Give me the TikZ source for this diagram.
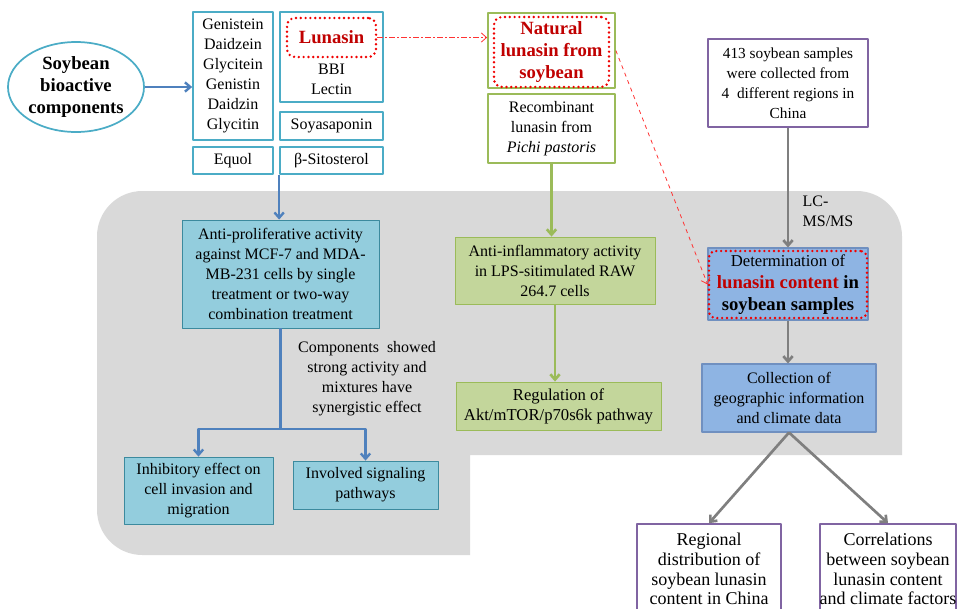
\documentclass[tikz,border=0pt]{standalone}
\usepackage[svgnames]{xcolor}
\usepackage{fontspec}
\setmainfont{Liberation Serif}
\usetikzlibrary{arrows.meta}
\usetikzlibrary{shapes.geometric}
\usetikzlibrary{calc}

\definecolor{aqualine}{HTML}{4BACC6}
\definecolor{arrblue}{HTML}{4F81BD}
\definecolor{cyanfill}{HTML}{93CDDD}
\definecolor{oliveline}{HTML}{9BBB59}
\definecolor{olivefill}{HTML}{C3D69B}
\definecolor{purpline}{HTML}{8064A2}
\definecolor{detfill}{HTML}{8EB4E3}
\definecolor{detline}{HTML}{7090C0}
\definecolor{lunred}{HTML}{C00000}
\definecolor{dotred}{HTML}{F00000}
\definecolor{bggray}{HTML}{D9D9D9}
\definecolor{arrgray}{HTML}{7F7F7F}

\begin{document}
\begin{tikzpicture}[x=0.75pt,y=-0.75pt,line join=round,
  sz/.style 2 args={minimum width=#1*0.75pt,minimum height=#2*0.75pt},
  txt/.style={font=\fontsize{12}{15}\selectfont,align=center,inner sep=0pt},
  bold/.style={font=\fontsize{14}{16.5}\selectfont\bfseries,align=center,inner sep=0pt},
  aquabox/.style={txt,draw=aqualine,line width=1.3pt},
  cyanbox/.style={txt,draw=aqualine!80!black,fill=cyanfill,line width=0.6pt},
  olivebox/.style={txt,draw=oliveline,line width=1.3pt},
  olivefilled/.style={txt,draw=oliveline,fill=olivefill,line width=0.6pt},
  purpbox/.style={txt,draw=purpline,line width=1.3pt},
  bluebox/.style={txt,draw=detline,fill=detfill,line width=0.8pt},
  reddots/.style={draw=dotred,line width=2pt,line cap=round,dash pattern=on 0pt off 3.6pt,rounded corners=6pt},
  blueln/.style={draw=arrblue,line width=1.8pt},
  oliveln/.style={draw=oliveline,line width=2pt},
  grayln/.style={draw=arrgray,line width=2pt},
  redln/.style={draw=red!80!white,line width=0.6pt},
  >={Straight Barb[length=4pt,width=7pt]}
]
\useasboundingbox (0,0) rectangle (957,608);
\clip (0,0) rectangle (957,608);

% shaded area
\fill[bggray] (500,191) [rounded corners=34pt] -- (97,191) -- (97,555) -- (300,555) [sharp corners] -- (470,555) -- (470,455) -- (902,455) -- (902,300) [rounded corners=34pt] -- (902,191) -- cycle;

% components
\node[ellipse,draw=aqualine,line width=1.3pt,bold,sz={136}{90}] (soy) at (76,87) {Soybean\\bioactive\\components};
\node[aquabox,sz={80}{128}] (iso) at (233,76) {Genistein\\Daidzein\\Glycitein\\Genistin\\Daidzin\\Glycitin};
\node[aquabox,sz={103}{90}] (pep) at (331.5,57) {};
\node[reddots,bold,text=lunred,sz={89}{39}] (lun) at (331.5,37.5) {Lunasin};
\node[txt] (bbi) at (331.5,79.5) {BBI\\Lectin};
\node[aquabox,sz={103}{28}] (soya) at (331.5,126) {Soyasaponin};
\node[aquabox,sz={80}{27}] (equol) at (233,160.5) {Equol};
\node[aquabox,sz={103}{27}] (sito) at (331.5,160.5) {β-Sitosterol};

% lunasin
\node[olivebox,sz={127}{75}] (natbox) at (551.5,50.5) {};
\node[reddots,bold,text=lunred,sz={115}{70}] (nat) at (551.5,52) {Natural\\lunasin from\\soybean};
\node[olivebox,sz={127}{69}] (rec) at (551.5,128.5) {Recombinant\\lunasin from\\\textit{Pichi pastoris}};
\node[purpbox,font=\fontsize{11.5}{15}\selectfont,sz={160}{88}] (samp) at (788,83) {413 soybean samples\\were collected from\\4~ different regions in\\China};

% activities
\node[cyanbox,sz={197}{108}] (anti) at (280.5,274) {Anti-proliferative activity\\against MCF-7 and MDA-\\MB-231 cells by single\\treatment or two-way\\combination treatment};
\node[olivefilled,sz={200}{67}] (infl) at (555,270.5) {Anti-inflammatory activity\\in LPS-sitimulated RAW\\264.7 cells};
\node[olivefilled,font=\fontsize{12.5}{15}\selectfont,sz={205}{48}] (reg) at (558.5,406) {Regulation of\\Akt/mTOR/p70s6k pathway};
\node[bluebox,sz={160}{72}] (detbox) at (788,284) {};
\node[reddots,txt,font=\fontsize{12.5}{16.5}\selectfont,sz={158}{67},rounded corners=5pt] (det) at (788,284.5) {Determination of\\{\fontsize{14}{16.5}\selectfont\bfseries\textcolor{lunred}{lunasin content} in}\\{\fontsize{14}{16.5}\selectfont\bfseries soybean samples}};
\node[bluebox,sz={174}{68}] (coll) at (789,398) {Collection of\\geographic information\\and climate data};
\node[cyanbox,sz={149}{67}] (inhib) at (198.5,490.5) {Inhibitory effect on\\cell invasion and\\migration};
\node[cyanbox,sz={145}{48}] (invol) at (365.5,485) {Involved signaling\\pathways};
\node[txt] (note) at (367,378.5) {Components~ showed\\strong activity and\\mixtures have\\synergistic effect};
\node[purpbox,font=\fontsize{13.5}{14.8}\selectfont,sz={144}{100}] (regi) at (709,574) {};
\node[txt,font=\fontsize{13.5}{14.8}\selectfont] (regitxt) at (709,569) {Regional\\distribution of\\soybean lunasin\\content in China};
\node[purpbox,font=\fontsize{13.5}{14.8}\selectfont,sz={136}{100}] (corr) at (888,574) {};
\node[txt,font=\fontsize{13.5}{14.8}\selectfont] (corrtxt) at (888,569) {Correlations\\between soybean\\lunasin content\\and climate factors};

% arrows
\draw[blueln,->] (soy.east) -- (soy.east -| iso.west);
\draw[blueln,->] (sito.south west) -- (sito.south west |- anti.north);
\draw[redln,dash pattern=on 4pt off 2pt on 1pt off 2pt,->] (lun.east) -- (lun.east -| natbox.west);
\draw[redln,dashed,->] (natbox.east) -- (det.west);
\draw[oliveln,->] (rec.south) -- (rec.south |- infl.north);
\draw[oliveln,->] (infl.south) -- (infl.south |- reg.north);
\draw[grayln,->] (samp.south) -- (samp.south |- detbox.north) node[pos=0.7,right=10pt,txt,align=left] {LC-\\MS/MS};
\draw[grayln,->] (detbox.south) -- (detbox.south |- coll.north);
\draw[grayln,->] (coll.south) -- (regi.north);
\draw[grayln,->] (coll.south) -- (corr.north);
\coordinate (fork) at (280.5,429);
\draw[blueln] (anti.south) -- (fork);
\draw[blueln,->] (fork) -| (inhib.north);
\draw[blueln,->] (fork) -| (invol.north);

\end{tikzpicture}
\end{document}
